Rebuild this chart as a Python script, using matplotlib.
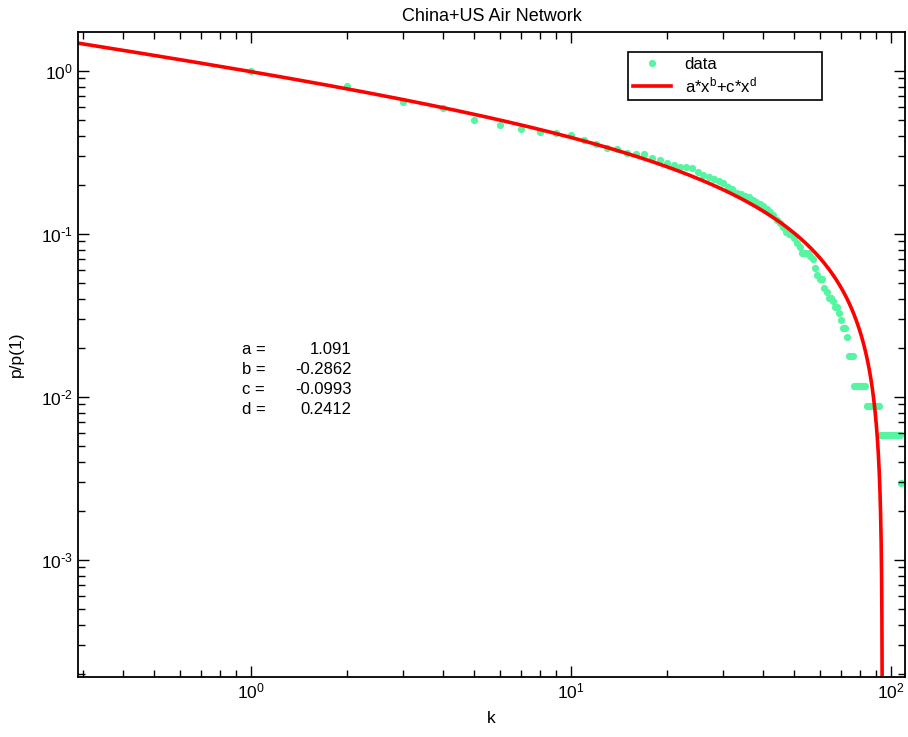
import numpy as np
import matplotlib
matplotlib.use("Agg")
import matplotlib.pyplot as plt
from matplotlib.ticker import LogLocator, FuncFormatter, NullFormatter

plt.rcParams["font.family"] = ["Liberation Sans", "DejaVu Sans"]
plt.rcParams["mathtext.default"] = "regular"

# degree k and normalised cumulative p/p(1)
k = list(range(1, 109))
p_norm = [
    1.0, 0.81, 0.648, 0.59, 0.50, 0.464, 0.439, 0.425, 0.418, 0.403,
    0.376, 0.355, 0.338, 0.332, 0.314, 0.310, 0.309, 0.294, 0.286, 0.273,
    0.265, 0.257, 0.256, 0.254, 0.241, 0.230, 0.225, 0.216, 0.212, 0.204,
    0.193, 0.188, 0.178, 0.177, 0.172, 0.168, 0.162, 0.158, 0.152, 0.149,
    0.142, 0.137, 0.131, 0.122, 0.116, 0.110, 0.103, 0.100, 0.098, 0.094,
    0.088, 0.083, 0.076, 0.076, 0.076, 0.073, 0.070, 0.0616, 0.056, 0.0527,
    0.0527, 0.0465, 0.0443, 0.0404, 0.0404, 0.0385, 0.0355, 0.0355, 0.0326, 0.0296,
    0.0263, 0.0263, 0.0234, 0.0177, 0.0177, 0.0177, 0.0117, 0.0117, 0.0117, 0.0117,
    0.0117, 0.0117, 0.0117, 0.0088, 0.0088, 0.0088, 0.0088, 0.0088, 0.0088, 0.0088,
    0.0088, 0.0088, 0.00587, 0.00587, 0.00587, 0.00587, 0.00587, 0.00587, 0.00587, 0.00587,
    0.00587, 0.00587, 0.00587, 0.00587, 0.00587, 0.00587, 0.00587, 0.00296,
]

# fit parameters shown on the chart
param_names = ["a", "b", "c", "d"]
param_text = ["1.091", "-0.2862", "-0.0993", "0.2412"]
a, b, c, d = [float(v) for v in param_text]

fig = plt.figure(figsize=(9.08, 7.37), dpi=100)
ax = fig.add_axes([78 / 908, 1 - 677 / 737, 827 / 908, 645 / 737])

# fitted curve a*x^b + c*x^d
xf = np.geomspace(0.25, 112, 40000)
yf = a * xf**b + c * xf**d
ax.plot(xf, yf, color="red", lw=2.6, label="a*x$^b$+c*x$^d$", zorder=2)
ax.plot(k, p_norm, "o", color="#55F5A2", ms=5.2, mec="none",
        label="data", zorder=1)

ax.set_xscale("log")
ax.set_yscale("log", nonpositive="clip")
ax.set_xlim(0.289, 110.8)
ax.set_ylim(1.91e-4, 1.735)


def dec_label(v, pos):
    e = int(round(np.log10(v)))
    if e < 0:
        return r"$10^{\text{-}%d}$" % (-e)
    return "$10^{%d}$" % e


fmt = FuncFormatter(dec_label)
for axis in (ax.xaxis, ax.yaxis):
    axis.set_major_locator(LogLocator(base=10, numticks=10))
    axis.set_minor_locator(LogLocator(base=10, subs=np.arange(2, 10), numticks=10))
    axis.set_major_formatter(fmt)
    axis.set_minor_formatter(NullFormatter())

ax.tick_params(which="both", direction="in", top=True, right=True,
               labelsize=12.5, width=1)
ax.tick_params(which="major", length=8)
ax.tick_params(which="minor", length=5)
for s in ax.spines.values():
    s.set_linewidth(1.3)

ax.set_title("China+US Air Network", fontsize=13, pad=8)
ax.set_xlabel("k", fontsize=12.5, labelpad=7)
ax.set_ylabel("p/p(1)", fontsize=12.5, labelpad=12)

# handles in order: data first, then fit
h, l = ax.get_legend_handles_labels()
leg = ax.legend([h[1], h[0]], [l[1], l[0]], loc="upper left",
                bbox_to_anchor=(0.665, 0.8946, 0.235, 0.0744), mode="expand",
                borderaxespad=0, fontsize=12, fancybox=False,
                edgecolor="black", framealpha=1, handlelength=2.3,
                borderpad=0.3, labelspacing=0.2, numpoints=1)
leg.get_frame().set_linewidth(1.2)

ys = [0.507, 0.476, 0.445, 0.414]
for name, val, yy in zip(param_names, param_text, ys):
    ax.text(0.198, yy, name + " =", transform=ax.transAxes, fontsize=12,
            va="center", ha="left")
    ax.text(0.331, yy, val, transform=ax.transAxes, fontsize=12,
            va="center", ha="right")

fig.savefig("out.png", dpi=100)
